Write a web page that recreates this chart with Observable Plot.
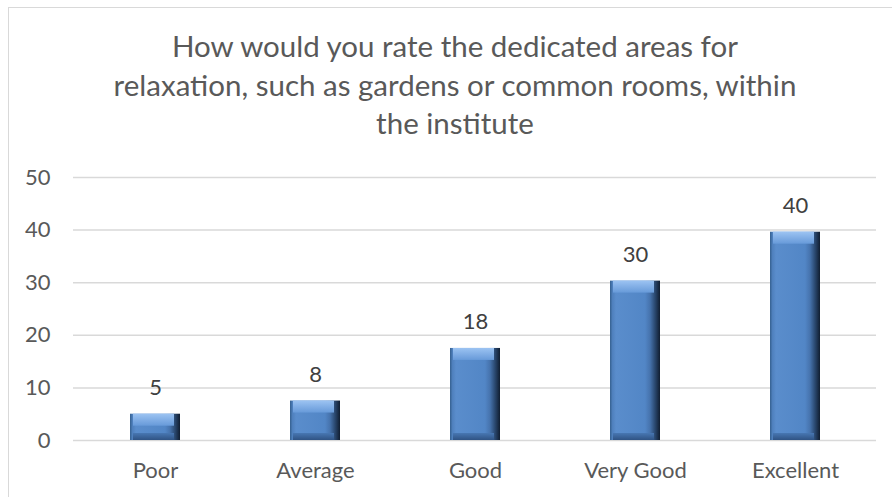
<!DOCTYPE html>
<html>
<head>
<meta charset="utf-8">
<script src="https://cdn.jsdelivr.net/npm/d3@7"></script>
<script src="https://cdn.jsdelivr.net/npm/@observablehq/plot@0.6"></script>
<style>
  html, body { margin: 0; padding: 0; background: #fff; }
  #wrap { position: relative; width: 892px; height: 497px; overflow: hidden; background: #fff; font-family: Lato, "Open Sans", sans-serif; }
  #frame { position: absolute; left: 8px; top: 7px; width: 900px; height: 500px; border-left: 1.5px solid #d9d9d9; border-top: 1.5px solid #d9d9d9; box-sizing: border-box; }
  #title { position: absolute; left: 8px; width: 894px; top: 27px; text-align: center; color: #595959; font-size: 29.5px; line-height: 38.5px; }
  #chart { position: absolute; left: 0; top: 160px; }
</style>
</head>
<body>
<div id="wrap">
  <div id="frame"></div>
  <div id="title">How would you rate the dedicated areas for<br>relaxation, such as gardens or common rooms, within<br>the institute</div>
  <div id="chart"></div>
</div>
<script>
const categories = ["Poor", "Average", "Good", "Very Good", "Excellent"];
const values = [5, 7.5, 17.5, 30.3, 39.6];
const yTicks = [0, 10, 20, 30, 40, 50];

const data = categories.map((c, i) => ({category: c, value: values[i]}));
const fmt = d3.format(".0f");

const chart = Plot.plot({
  width: 892,
  height: 337,
  marginLeft: 73,
  marginRight: 16,
  marginTop: 17,
  marginBottom: 57,
  style: {fontFamily: "Lato, 'Open Sans', sans-serif", fontSize: "22px", color: "#595959", background: "transparent"},
  x: {domain: categories, paddingInner: 0.69, paddingOuter: 0.345, label: null, tickSize: 0, tickPadding: 22},
  y: {domain: [0, 50], ticks: yTicks, label: null, tickSize: 0, tickPadding: 23},
  marks: [
    Plot.gridY(yTicks, {stroke: "#d9d9d9", strokeOpacity: 1, strokeWidth: 1.5}),
    Plot.barY(data, {x: "category", y: "value", fill: "url(#gMain)"}),
    Plot.barY(data, {x: "category", y1: "value", y2: "value", insetBottom: -12, insetLeft: 3, insetRight: 6, fill: "url(#gTop)"}),
    Plot.barY(data, {x: "category", y1: 0, y2: 0, insetTop: -7, insetLeft: 3, insetRight: 6, fill: "url(#gBot)"}),
    Plot.text(data, {x: "category", y: "value", text: d => fmt(d.value), dy: -26, fill: "#404040", fontSize: 22})
  ]
});

d3.select(chart).insert("defs", ":first-child").html(`
  <linearGradient id="gMain" x1="0" y1="0" x2="1" y2="0">
    <stop offset="0" stop-color="#35608f"/>
    <stop offset="0.05" stop-color="#4f80bd"/>
    <stop offset="0.12" stop-color="#5a8dcc"/>
    <stop offset="0.7" stop-color="#5286c6"/>
    <stop offset="0.8" stop-color="#4673ad"/>
    <stop offset="0.9" stop-color="#2a486f"/>
    <stop offset="1" stop-color="#101d30"/>
  </linearGradient>
  <linearGradient id="gTop" x1="0" y1="0" x2="0" y2="1">
    <stop offset="0" stop-color="#9cc3f2"/>
    <stop offset="1" stop-color="#679ad9"/>
  </linearGradient>
  <linearGradient id="gBot" x1="0" y1="0" x2="0" y2="1">
    <stop offset="0" stop-color="#4877b2"/>
    <stop offset="1" stop-color="#2f5384"/>
  </linearGradient>
`);

document.getElementById("chart").appendChild(chart);
</script>
</body>
</html>
